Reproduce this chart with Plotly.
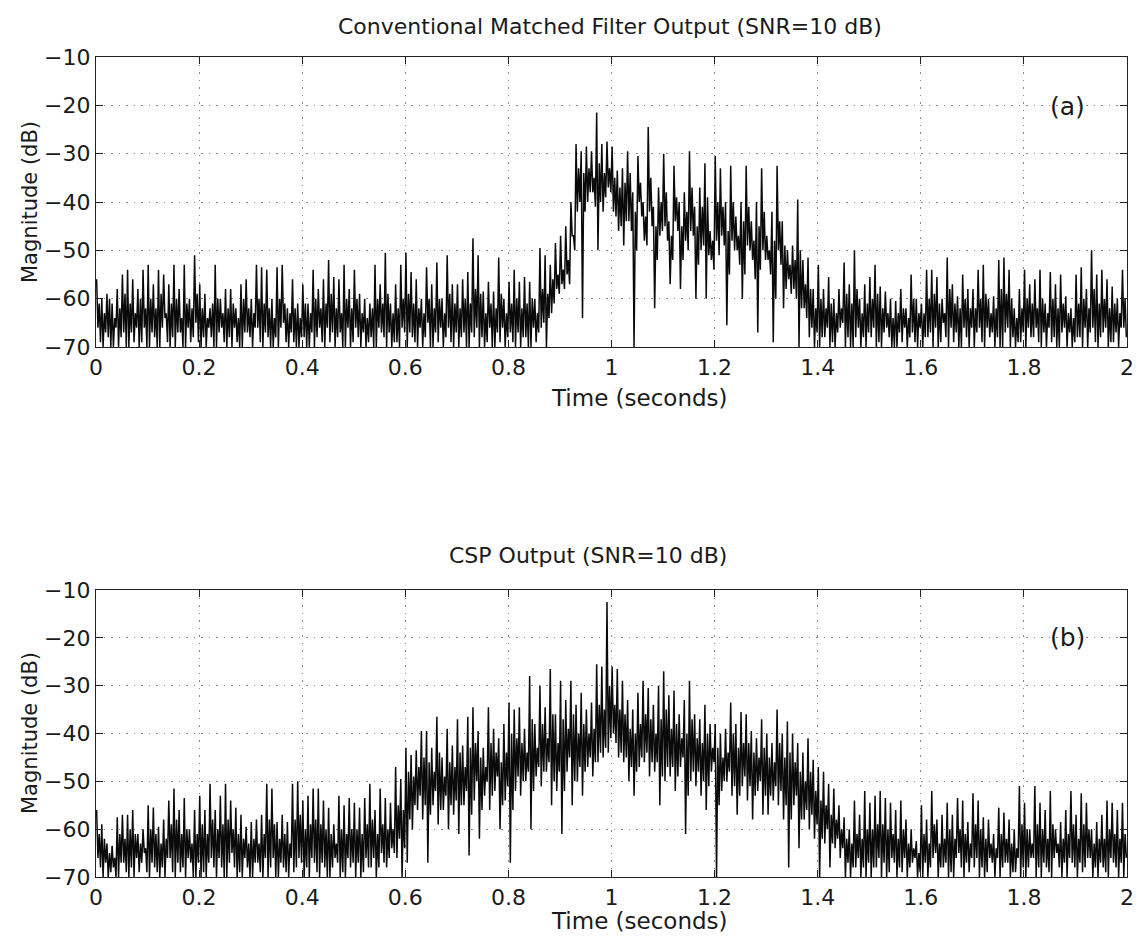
import plotly.graph_objects as go

# ---------------- data ----------------
# Each panel, per 0.01 s bin: main peak (upper), main trough (lower),
# secondary peak (inner_hi) and secondary trough (inner_lo) of the dense trace, in dB
time_step = 0.01

a_upper = [
    -56, -60, -59, -61, -58, -55, -54, -56, -58, -54,
    -53, -57, -54, -55, -57, -53, -58, -53, -60, -51,
    -57, -59, -62, -53, -60, -58, -58, -62, -57, -56,
    -60, -53, -53.5, -54, -60, -53.5, -53, -62, -56, -61,
    -57, -61, -54, -58, -56, -52, -55.5, -56, -53, -58,
    -54, -59, -60, -61, -53, -57, -50.5, -61, -57, -53,
    -50.5, -54.5, -56, -60, -53.5, -57, -52.5, -60, -51, -57,
    -57, -56, -54.5, -47.5, -51, -58.5, -56.5, -58.5, -51.5, -60,
    -56.5, -54, -56.5, -55.5, -56.5, -60, -49.5, -51, -53, -48.5,
    -47, -45, -40, -28, -29.5, -28.5, -29.5, -21.5, -28, -27.5,
    -28.5, -33.5, -33, -29.5, -38, -30.5, -40, -24.5, -41, -37,
    -30, -44, -32.5, -40, -38, -29.5, -41, -37, -32, -46,
    -30.5, -33, -40, -32.5, -43, -40, -32.5, -44, -40, -33,
    -47, -42, -32.5, -44, -50, -49, -39.5, -52, -51.5, -58,
    -53, -58, -55.5, -60, -58, -52.5, -57, -50, -60, -57,
    -55.5, -53, -57.5, -58.5, -60, -60.5, -58, -62, -55, -60,
    -61, -54, -54, -55.5, -60, -51.5, -57, -59.5, -55, -58,
    -58, -54, -53, -60, -59.5, -52, -51.5, -54, -62, -58,
    -54, -57, -56, -54, -61, -54.5, -57, -55, -59.5, -62,
    -55, -53.5, -58, -50, -55, -54, -56, -57.5, -60, -54,
]
a_lower = [
    -66, -70, -68, -70, -70, -67, -70, -69, -70, -66,
    -70, -68, -70, -64, -70, -70, -67, -70, -69, -65,
    -70, -70, -68, -70, -66, -70, -70, -69, -70, -67,
    -70, -66, -70, -68, -70, -70, -65, -70, -69, -70,
    -68, -70, -70, -66, -70, -69, -70, -67, -70, -70,
    -66, -70, -70, -68, -70, -67, -70, -70, -69, -66,
    -70, -68, -70, -70, -65, -70, -69, -70, -66, -70,
    -70, -67, -70, -68, -70, -70, -66, -70, -69, -70,
    -67, -70, -70, -68, -70, -69, -66, -70, -63, -58,
    -57, -55, -47, -42, -64, -40, -38, -50, -42, -37,
    -42, -46, -49, -44, -70, -40, -48, -42, -62, -47,
    -45, -57, -44, -58, -48, -46, -60, -50, -60, -52,
    -48, -47, -65.5, -48, -50, -60, -49, -52, -67, -50,
    -52, -69, -50, -62, -56, -58, -70, -62, -68, -70,
    -70, -68, -70, -70, -66, -70, -70, -68, -70, -70,
    -68, -70, -70, -66, -70, -70, -69, -70, -67, -70,
    -70, -68, -70, -70, -65, -70, -69, -70, -66, -70,
    -70, -66, -70, -68, -70, -70, -67, -70, -70, -69,
    -70, -68, -66, -70, -70, -69, -70, -67, -70, -70,
    -68, -70, -70, -66, -70, -67, -70, -69, -70, -66,
]
a_inner_hi = [
    -61, -63, -60, -64, -62, -59, -61, -63, -60, -62,
    -60, -62, -59, -63, -61, -60, -64, -61, -62, -59,
    -62, -64, -61, -60, -63, -62, -61, -64, -60, -62,
    -63, -60, -61, -62, -64, -60, -61, -63, -62, -64,
    -61, -63, -60, -62, -61, -59, -62, -63, -60, -62,
    -60, -63, -64, -62, -60, -61, -59, -63, -62, -60,
    -59, -61, -62, -63, -60, -62, -60, -63, -59, -61,
    -62, -60, -61, -58, -59, -63, -61, -62, -59, -63,
    -61, -60, -62, -61, -60, -63, -58, -59, -56, -55,
    -54, -52, -47, -33, -34, -33, -35, -32, -34, -33,
    -35, -37, -36, -34, -42, -36, -43, -35, -45, -40,
    -38, -47, -39, -45, -42, -37, -45, -41, -39, -48,
    -40, -41, -46, -40, -47, -44, -41, -48, -45, -42,
    -50, -48, -44, -49, -53, -52, -50, -57, -58, -62,
    -60, -62, -61, -63, -62, -59, -61, -58, -63, -61,
    -60, -59, -62, -63, -64, -63, -62, -64, -60, -63,
    -63, -60, -59, -61, -63, -58, -61, -62, -60, -62,
    -62, -60, -59, -63, -62, -58, -59, -60, -64, -62,
    -60, -61, -62, -60, -63, -60, -62, -61, -63, -64,
    -61, -60, -62, -58, -61, -60, -62, -61, -63, -60,
]
a_inner_lo = [
    -69, -67, -70, -66, -68, -70, -67, -66, -69, -70,
    -67, -70, -66, -69, -68, -67, -70, -66, -68, -69,
    -68, -66, -70, -67, -69, -68, -66, -70, -67, -68,
    -66, -69, -67, -70, -68, -66, -69, -67, -70, -68,
    -70, -67, -68, -69, -66, -67, -68, -70, -66, -69,
    -68, -67, -69, -70, -66, -68, -67, -69, -70, -67,
    -67, -69, -66, -68, -70, -67, -66, -68, -69, -67,
    -68, -70, -67, -66, -68, -69, -70, -67, -66, -68,
    -69, -67, -68, -70, -66, -67, -65, -64, -61, -59,
    -58, -57, -50, -40, -42, -38, -41, -40, -39, -38,
    -43, -45, -44, -46, -50, -43, -49, -45, -52, -46,
    -48, -52, -46, -52, -50, -47, -53, -49, -51, -54,
    -51, -49, -55, -50, -53, -55, -50, -56, -54, -52,
    -55, -60, -53, -58, -59, -60, -62, -64, -66, -67,
    -68, -66, -69, -67, -65, -68, -70, -66, -68, -67,
    -66, -69, -67, -68, -70, -67, -66, -68, -69, -66,
    -68, -67, -66, -69, -68, -66, -67, -70, -68, -66,
    -67, -69, -66, -67, -68, -70, -66, -68, -69, -67,
    -66, -68, -69, -67, -66, -68, -70, -66, -67, -69,
    -68, -66, -67, -69, -68, -66, -69, -67, -66, -68,
]

b_upper = [
    -56, -59, -63, -63.5, -57.5, -57, -57, -56, -61, -60,
    -55, -55.5, -59.5, -58, -54, -51.5, -56, -53.5, -60, -56,
    -53, -56, -50.5, -56, -53, -50.5, -54, -55.5, -57, -59.5,
    -58.5, -58, -57, -50.5, -51.5, -58.5, -57, -58.5, -50.5, -50,
    -54, -53, -51.5, -51.5, -54, -55.5, -59, -53, -55, -53.5,
    -54.5, -55.5, -53.5, -50.5, -56, -51.5, -53.5, -54.5, -47, -49.5,
    -43, -44.5, -43.5, -39.5, -39.5, -43, -36.5, -45, -39, -42.5,
    -37, -42.5, -36.5, -34.5, -39.5, -43, -34.5, -39, -41, -38,
    -33.5, -35, -34.5, -39, -28, -38, -30, -34.5, -26.5, -36,
    -29, -33, -29, -34, -31.5, -35, -33.5, -25.5, -26, -12.5,
    -26, -26.5, -29, -33, -35, -31.5, -29, -30.5, -34, -30,
    -27, -32, -31, -36, -33, -29, -36, -37, -34, -38,
    -38, -40, -39, -33.5, -38, -35.5, -36, -39.5, -41, -37,
    -40, -42, -35, -40, -37.5, -40, -42, -44, -41, -45.5,
    -47, -48, -50.5, -51.5, -55, -57.5, -60, -54, -57, -52,
    -54.5, -53, -52, -53.5, -54.5, -56, -54, -58, -60, -62.5,
    -55, -58, -52, -58, -57, -54.5, -57, -53.5, -54, -58.5,
    -52.5, -54, -57.5, -58, -61, -55.5, -56.5, -58, -60, -51,
    -54.5, -60, -51, -54.5, -56, -52, -60, -58.5, -56, -52,
    -57, -52.5, -54.5, -60, -58.5, -57, -54, -54.5, -56, -54.5,
]
b_lower = [
    -66, -70, -70, -68, -70, -67, -70, -70, -69, -65,
    -70, -68, -70, -70, -66, -70, -69, -70, -67, -70,
    -70, -70, -66, -70, -68, -70, -65, -70, -70, -68,
    -70, -67, -70, -70, -66, -70, -68, -70, -69, -66,
    -70, -70, -67, -70, -68, -70, -66, -70, -70, -68,
    -70, -70, -66, -68, -70, -65, -68, -64, -66, -70,
    -67, -60, -56, -58, -67, -55, -59, -56, -60, -57,
    -61, -55, -65.5, -54, -62, -53, -56, -52, -60, -54,
    -67, -52, -53, -50, -60, -49, -51, -48, -55, -52,
    -61, -48, -55, -50, -53, -47, -49, -46, -45, -44,
    -40, -45, -46, -50, -53, -47, -46, -49, -48, -55,
    -50, -49, -52, -47, -61, -50, -51, -53, -56, -48,
    -70, -52, -50, -53, -57, -51, -54, -58, -52, -57,
    -57, -54, -55, -58, -68, -55, -64, -58, -60, -62,
    -70, -63, -68, -64, -66, -70, -70, -68, -70, -70,
    -70, -68, -70, -70, -66, -70, -69, -70, -67, -70,
    -70, -70, -66, -70, -68, -70, -70, -65, -70, -69,
    -68, -70, -70, -66, -70, -70, -67, -70, -69, -70,
    -70, -66, -70, -70, -68, -70, -65, -70, -70, -67,
    -70, -69, -66, -70, -70, -68, -70, -67, -70, -70,
]
b_inner_hi = [
    -61, -62, -65, -66, -61, -62, -60, -61, -63, -64,
    -60, -61, -63, -62, -59, -58, -61, -60, -63, -61,
    -59, -61, -58, -60, -59, -58, -60, -61, -62, -63,
    -62, -63, -61, -58, -59, -62, -61, -63, -58, -57,
    -60, -59, -58, -59, -60, -61, -63, -60, -61, -60,
    -60, -61, -59, -58, -61, -59, -60, -60, -55, -56,
    -48, -49, -47, -45, -46, -48, -44, -49, -46, -47,
    -44, -47, -43, -42, -45, -47, -42, -44, -46, -44,
    -40, -41, -42, -44, -37, -43, -38, -41, -36, -42,
    -37, -39, -36, -40, -38, -40, -39, -34, -35, -30,
    -34, -35, -36, -39, -40, -38, -36, -37, -40, -37,
    -35, -39, -38, -41, -40, -37, -41, -42, -40, -43,
    -43, -45, -44, -40, -43, -42, -42, -44, -45, -43,
    -45, -46, -42, -45, -44, -46, -48, -50, -48, -52,
    -54, -55, -57, -58, -60, -62, -63, -61, -62, -60,
    -60, -59, -59, -60, -61, -62, -60, -63, -64, -65,
    -61, -63, -59, -63, -62, -60, -62, -60, -61, -63,
    -59, -60, -62, -63, -64, -61, -62, -63, -64, -59,
    -60, -63, -59, -60, -62, -59, -63, -62, -61, -59,
    -62, -59, -60, -63, -62, -62, -60, -61, -62, -61,
]
b_inner_lo = [
    -68, -67, -69, -70, -67, -69, -68, -66, -67, -69,
    -67, -69, -68, -66, -69, -67, -68, -66, -70, -67,
    -69, -67, -68, -66, -70, -67, -68, -69, -66, -70,
    -67, -69, -66, -68, -70, -67, -69, -66, -68, -67,
    -68, -66, -69, -67, -70, -68, -67, -69, -66, -67,
    -67, -69, -68, -66, -68, -67, -66, -65, -62, -64,
    -58, -55, -53, -55, -57, -52, -56, -53, -55, -54,
    -55, -52, -57, -50, -56, -50, -53, -49, -55, -51,
    -56, -49, -50, -48, -52, -47, -48, -46, -50, -48,
    -52, -45, -50, -47, -48, -45, -46, -44, -43, -41,
    -42, -44, -45, -47, -48, -45, -44, -46, -46, -49,
    -47, -47, -49, -45, -53, -48, -48, -50, -51, -46,
    -55, -50, -48, -51, -53, -49, -51, -53, -50, -53,
    -53, -51, -52, -55, -58, -53, -58, -56, -57, -59,
    -62, -60, -63, -62, -64, -67, -68, -66, -68, -67,
    -68, -66, -67, -69, -67, -68, -66, -68, -66, -69,
    -67, -68, -65, -68, -67, -69, -66, -68, -67, -66,
    -66, -68, -69, -67, -66, -68, -67, -69, -66, -68,
    -68, -66, -68, -67, -69, -66, -68, -67, -66, -68,
    -67, -68, -66, -68, -67, -69, -66, -68, -67, -66,
]

x_tick_vals = [0, 0.2, 0.4, 0.6, 0.8, 1.0, 1.2, 1.4, 1.6, 1.8, 2.0]
x_tick_text = ["0", "0.2", "0.4", "0.6", "0.8", "1", "1.2", "1.4", "1.6", "1.8", "2"]
y_tick_vals = [-70, -60, -50, -40, -30, -20, -10]
y_tick_text = ["\u221270", "\u221260", "\u221250", "\u221240", "\u221230", "\u221220", "\u221210"]

title_a = "Conventional Matched Filter Output (SNR=10 dB)"
title_b = "CSP Output (SNR=10 dB)"
x_label = "Time (seconds)"
y_label = "Magnitude (dB)"
panel_a = "(a)"
panel_b = "(b)"

for arr in (a_upper, a_lower, a_inner_hi, a_inner_lo, b_upper, b_lower, b_inner_hi, b_inner_lo):
    assert len(arr) == 200, len(arr)


def build_trace(upper, lower, inner_hi, inner_lo):
    xs, ys = [], []
    for i in range(len(upper)):
        t0 = i * time_step
        for frac, v in ((0.125, upper[i]), (0.375, lower[i]),
                        (0.625, inner_hi[i]), (0.875, inner_lo[i])):
            xs.append(t0 + frac * time_step)
            ys.append(v)
    return xs, ys


FONT = "DejaVu Sans, Liberation Sans, Arial, sans-serif"
TXT = "#1a1a1a"
OFF = 8  # page body margin
W, H = 1143 - 2 * OFF, 941 - 2 * OFF
# page coordinates of plot areas
P_LEFT, P_RIGHT = 96, 1127
TOP_A, BOT_A = 57, 347
TOP_B, BOT_B = 590, 877
ML = P_LEFT - OFF
MR = W - (P_RIGHT - OFF)
MT = TOP_A - OFF
MB = H - (BOT_B - OFF)
PH = H - MT - MB
PW = W - ML - MR

fig = go.Figure()
xa, ya = build_trace(a_upper, a_lower, a_inner_hi, a_inner_lo)
xb, yb = build_trace(b_upper, b_lower, b_inner_hi, b_inner_lo)
fig.add_trace(go.Scatter(x=xa, y=ya, mode="lines", line=dict(color="#0a0a0a", width=1.5),
                         xaxis="x", yaxis="y", showlegend=False, hoverinfo="skip"))
fig.add_trace(go.Scatter(x=xb, y=yb, mode="lines", line=dict(color="#0a0a0a", width=1.5),
                         xaxis="x2", yaxis="y2", showlegend=False, hoverinfo="skip"))

axis_common = dict(
    showline=True, linecolor="#222", linewidth=1.3, mirror="ticks",
    ticks="inside", ticklen=7, tickwidth=1.3, tickcolor="#222",
    showgrid=True, gridcolor="#8a8a8a", griddash="1.5px,6px", gridwidth=1.2,
    zeroline=False, automargin=False,
    tickfont=dict(family=FONT, size=22, color=TXT),
)

top_dom = [1 - (BOT_A - TOP_A) / PH, 1]
bot_dom = [0, (BOT_B - TOP_B) / PH]

fig.update_layout(
    width=W, height=H,
    margin=dict(l=ML, r=MR, t=MT, b=MB),
    paper_bgcolor="white", plot_bgcolor="white",
    xaxis=dict(domain=[0, 1], range=[0, 2], tickvals=x_tick_vals, ticktext=x_tick_text,
               anchor="y", **axis_common),
    yaxis=dict(domain=top_dom, range=[-70, -10], tickvals=y_tick_vals, ticktext=y_tick_text,
               anchor="x", **axis_common),
    xaxis2=dict(domain=[0, 1], range=[0, 2], tickvals=x_tick_vals, ticktext=x_tick_text,
                anchor="y2", **axis_common),
    yaxis2=dict(domain=bot_dom, range=[-70, -10], tickvals=y_tick_vals, ticktext=y_tick_text,
                anchor="x2", **axis_common),
)


def px_x(px):
    return (px - P_LEFT) / PW


def px_y(py):
    return 1 - (py - TOP_A) / PH


def ann(text, x, y, size, xref="paper", yref="paper", angle=0):
    fig.add_annotation(text=text, x=x, y=y, xref=xref, yref=yref, showarrow=False,
                       xanchor="center", yanchor="middle", textangle=angle,
                       font=dict(family=FONT, size=size, color=TXT))


ann(title_a, px_x(610), px_y(27), 22)
ann(title_b, px_x(588), px_y(555), 22)
ann(x_label, px_x(639), px_y(398), 23)
ann(x_label, px_x(639), px_y(921), 23)
ann(y_label, px_x(30), px_y(202), 21, angle=-90)
ann(y_label, px_x(30), px_y(733), 21, angle=-90)
ann(panel_a, 1.885, -20.3, 25, xref="x", yref="y")
ann(panel_b, 1.885, -20.0, 25, xref="x2", yref="y2")

fig.write_html("out.html")
